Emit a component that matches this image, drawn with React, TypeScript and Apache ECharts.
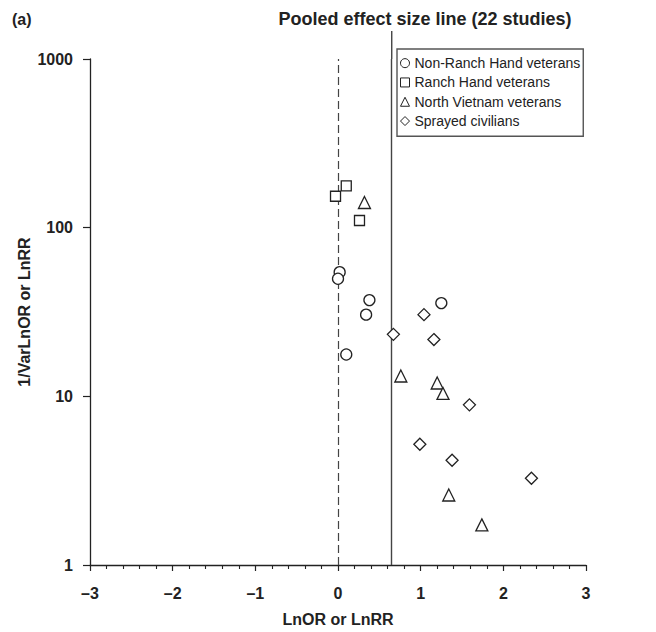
import React, { useEffect, useRef } from "react";
import * as echarts from "echarts";

const nonRanchX = [0.02, 0.0, 0.38, 0.34, 1.25, 0.1];
const nonRanchY = [54.5, 49.8, 37.2, 30.5, 35.7, 17.7];
const ranchX = [0.1, -0.03, 0.26];
const ranchY = [177, 153.6, 110.3];
const northX = [0.32, 0.76, 1.2, 1.27, 1.34, 1.74];
const northY = [141, 13.2, 12.0, 10.4, 2.6, 1.73];
const civX = [0.67, 1.04, 1.16, 1.59, 0.99, 1.38, 2.34];
const civY = [23.3, 30.5, 21.7, 8.9, 5.2, 4.18, 3.27];
const pooledEffect = 0.65;
const nullEffect = 0;
const seriesNames = [
  "Non-Ranch Hand veterans",
  "Ranch Hand veterans",
  "North Vietnam veterans",
  "Sprayed civilians",
];
const symbols = ["circle", "rect", "triangle", "diamond"];
const symbolSizes = [11, 10, 12, 12];
const titleText = "Pooled effect size line (22 studies)";
const panelLabel = "(a)";
const xName = "LnOR or LnRR";
const yName = "1/VarLnOR or LnRR";

const FONT = "'Liberation Sans', Arial, Helvetica, sans-serif";
const INK = "#222";

function pairs(xs: number[], ys: number[]) {
  return xs.map((x, i) => [x, ys[i]]);
}

export default function App() {
  const ref = useRef<HTMLDivElement>(null);
  useEffect(() => {
    if (!ref.current) return;
    const chart = echarts.init(ref.current, undefined, { renderer: "svg" });
    const groups = [
      pairs(nonRanchX, nonRanchY),
      pairs(ranchX, ranchY),
      pairs(northX, northY),
      pairs(civX, civY),
    ];
    const series: any[] = groups.map((data, i) => ({
      type: "scatter",
      name: seriesNames[i],
      data,
      symbol: symbols[i],
      symbolSize: symbolSizes[i],
      itemStyle: { color: "#fff", borderColor: INK, borderWidth: 1.3, opacity: 1 },
      z: 5,
    }));
    series[0].markLine = {
      silent: true,
      symbol: ["none", "none"],
      label: { show: false },
      animation: false,
      data: [
        { xAxis: nullEffect, lineStyle: { type: [8, 4], color: "#444", width: 1.2 } },
        { xAxis: pooledEffect, lineStyle: { type: "solid", color: "#444", width: 1.4 } },
      ],
    };
    chart.setOption({
      animation: false,
      backgroundColor: "#fff",
      grid: { left: 90, right: 70, top: 59, bottom: 66, containLabel: false },
      xAxis: {
        type: "value",
        min: -3,
        max: 3,
        interval: 1,
        name: xName,
        nameLocation: "middle",
        nameGap: 46,
        nameMoveOverlap: false,
        nameTextStyle: { fontFamily: FONT, fontWeight: "bold", fontSize: 16, color: INK },
        axisLine: { show: true, onZero: false, lineStyle: { color: INK, width: 1.3 } },
        axisTick: { show: true, inside: false, length: 6, lineStyle: { color: INK, width: 1.2 } },
        minorTick: { show: true, splitNumber: 5, length: 4, lineStyle: { color: INK, width: 1.1 } },
        splitLine: { show: false },
        minorSplitLine: { show: false },
        axisLabel: {
          margin: 20,
          fontFamily: FONT,
          fontWeight: "bold",
          fontSize: 16,
          color: INK,
          formatter: (v: number) => (v < 0 ? "\u2013" + Math.abs(v) : String(v)),
        },
      },
      yAxis: {
        type: "log",
        logBase: 10,
        min: 1,
        max: 1000,
        name: yName,
        nameLocation: "middle",
        nameRotate: 90,
        nameGap: 58,
        nameMoveOverlap: false,
        nameTextStyle: { fontFamily: FONT, fontWeight: "bold", fontSize: 16, color: INK },
        axisLine: { show: true, onZero: false, lineStyle: { color: INK, width: 1.3 } },
        axisTick: { show: true, inside: false, length: 7, lineStyle: { color: INK, width: 1.2 } },
        minorTick: { show: false },
        splitLine: { show: false },
        axisLabel: {
          margin: 17,
          fontFamily: FONT,
          fontWeight: "bold",
          fontSize: 16,
          color: INK,
          formatter: (v: number) => String(Math.round(v)),
        },
      },
      legend: {
        orient: "vertical",
        left: 397,
        top: 49,
        padding: [6, 3, 7, 3],
        itemGap: 3,
        itemWidth: 9,
        itemHeight: 9,
        borderColor: "#555",
        borderWidth: 1.4,
        backgroundColor: "#fff",
        data: seriesNames.map((n, i) => ({ name: n, icon: symbols[i] })),
        itemStyle: { color: "#fff", borderColor: INK, borderWidth: 1 },
        textStyle: { fontFamily: FONT, fontSize: 14, color: INK, lineHeight: 16.3, padding: [0, 0, 0, 0] },
        selectedMode: false,
      },
      series,
    });
    const top = chart.convertToPixel({ xAxisIndex: 0, yAxisIndex: 0 } as any, [pooledEffect, 1000]) as number[];
    chart.setOption({
      graphic: [
        {
          type: "line",
          silent: true,
          shape: { x1: top[0], y1: 31, x2: top[0], y2: top[1] },
          style: { stroke: "#444", lineWidth: 1.4 },
          z: 1,
        },
        {
          type: "text",
          x: 425,
          y: 19,
          style: {
            text: titleText,
            fontFamily: FONT,
            fontWeight: "bold",
            fontSize: 18,
            fill: INK,
            textAlign: "center",
            textVerticalAlign: "middle",
          },
        },
        {
          type: "text",
          x: 12,
          y: 19,
          style: {
            text: panelLabel,
            fontFamily: FONT,
            fontWeight: "bold",
            fontSize: 16,
            fill: INK,
            textAlign: "left",
            textVerticalAlign: "middle",
          },
        },
      ],
    });
    return () => chart.dispose();
  }, []);
  return (
    <div
      ref={ref}
      style={{ position: "absolute", left: 0, top: 0, width: 656, height: 632 }}
    />
  );
}
